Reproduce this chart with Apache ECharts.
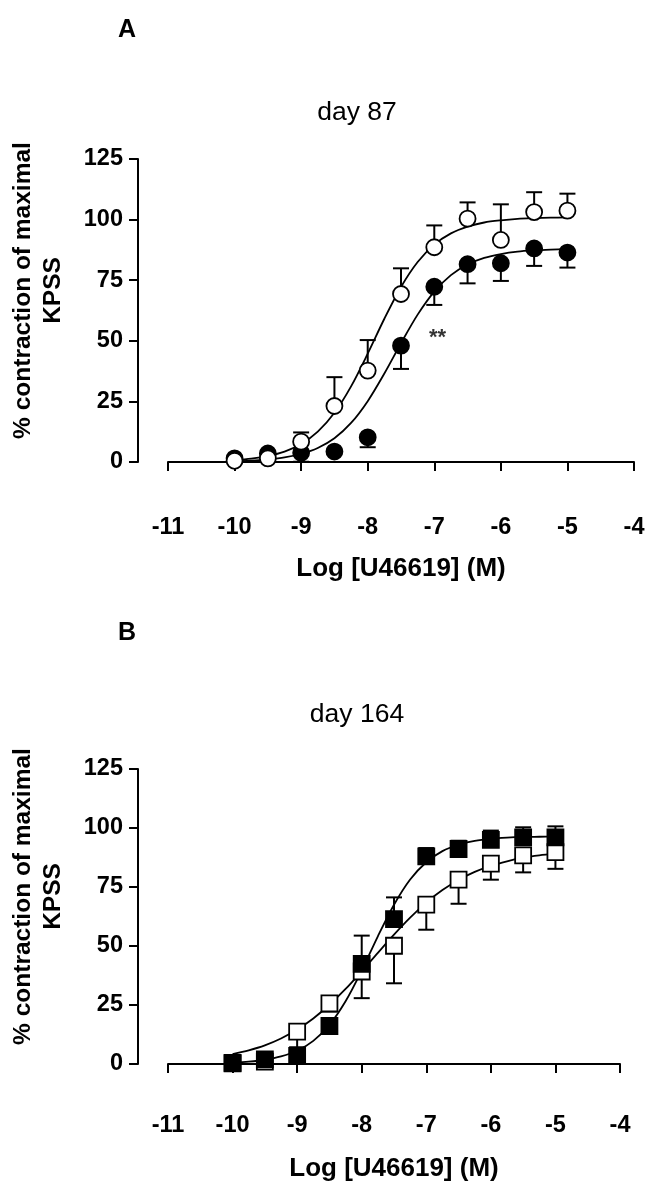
<!DOCTYPE html>
<html><head><meta charset="utf-8">
<script src="https://cdn.jsdelivr.net/npm/echarts@6/dist/echarts.min.js"></script>
<style>html,body{margin:0;padding:0;background:#fff}#c{width:656px;height:1200px}</style>
</head><body><div id="c"></div>
<script>
// ---- data ----
const logConc = [-10, -9.5, -9, -8.5, -8, -7.5, -7, -6.5, -6, -5.5, -5];
const xTicks = [-11, -10, -9, -8, -7, -6, -5, -4];
const yTicks = [0, 25, 50, 75, 100, 125];

// Panel A (day 87): open circles (mean, SEM up), filled circles (mean, SEM down)
const aOpenMean  = [0.5, 1.5, 8.4, 23.1, 37.7, 69.3, 88.6, 100.4, 91.6, 103.1, 103.7];
const aOpenErr   = [0, 0, 3.8, 11.9, 12.6, 10.6, 9.0, 6.7, 14.7, 8.2, 7.0];
const aFillMean  = [1.5, 3.5, 3.8, 4.3, 10.2, 48.0, 72.3, 81.6, 82.0, 88.1, 86.4];
const aFillErr   = [0, 0, 3.7, 0, 4.1, 9.6, 7.5, 7.9, 7.3, 7.2, 6.2];

// Panel B (day 164): filled squares (SEM up), open squares (SEM down)
const bFillMean  = [0.3, 2.0, 3.4, 16.1, 42.4, 61.4, 88.0, 91.1, 95.0, 96.0, 96.0];
const bFillErr   = [0, 0, 0, 0, 12.0, 9.2, 3.5, 3.5, 3.9, 4.3, 4.7];
const bOpenMean  = [0.5, 1.0, 13.7, 25.7, 39.2, 50.1, 67.5, 78.1, 84.9, 88.4, 89.8];
const bOpenErr   = [0, 0, 6.6, 3.5, 11.3, 15.9, 10.6, 10.2, 6.8, 7.2, 7.1];

// Fitted curves
const curveX = [-10, -9.75, -9.5, -9.25, -9, -8.75, -8.5, -8.25, -8, -7.75, -7.5, -7.25, -7, -6.75, -6.5, -6.25, -6, -5.75, -5.5, -5.25, -5];
const aOpenCurve = [0.8, 1.4, 2.5, 4.3, 7.4, 12.5, 20.3, 31.2, 44.7, 59.1, 72.2, 82.5, 89.7, 94.3, 97.1, 98.8, 99.7, 100.3, 100.6, 100.8, 100.9];
const aFillCurve = [0.4, 0.6, 1.1, 1.9, 3.4, 5.8, 9.8, 16.1, 25.1, 36.5, 49.0, 60.8, 70.3, 77.1, 81.5, 84.2, 85.8, 86.8, 87.3, 87.6, 87.8];
const bFillCurve = [0.5, 1.0, 1.8, 3.2, 5.6, 9.8, 16.6, 26.6, 39.6, 54.1, 67.5, 78.2, 85.5, 90.2, 92.9, 94.5, 95.4, 95.9, 96.2, 96.3, 96.4];
const bOpenCurve = [4.2, 5.8, 7.9, 10.8, 14.6, 19.3, 25.1, 31.8, 39.3, 47.1, 54.8, 62.0, 68.4, 73.7, 78.0, 81.4, 84.0, 85.9, 87.4, 88.4, 89.1];

const annotationA = [[-6.95, 51, '**']];

// ---- chart ----
const FONT = 'Liberation Sans, Arial, Helvetica, sans-serif';
const zip = (xs, ys) => xs.map((x, i) => [x, ys[i]]);

function errSeries(idx, xs, ys, errs, dir, z) {
  return {
    type: 'custom', xAxisIndex: idx, yAxisIndex: idx, z: z, silent: true,
    data: xs.map((x, i) => [x, ys[i], ys[i] + dir * errs[i], errs[i]]),
    renderItem: function (params, api) {
      if (api.value(3) <= 0) return { type: 'group', children: [] };
      const p0 = api.coord([api.value(0), api.value(1)]);
      const p1 = api.coord([api.value(0), api.value(2)]);
      const hw = 8;
      return { type: 'group', children: [
        { type: 'line', shape: { x1: p0[0], y1: p0[1], x2: p1[0], y2: p1[1] }, style: { stroke: '#000', lineWidth: 2 } },
        { type: 'line', shape: { x1: p1[0] - hw, y1: p1[1], x2: p1[0] + hw, y2: p1[1] }, style: { stroke: '#000', lineWidth: 2 } }
      ]};
    }
  };
}
function curve(idx, ys, z) {
  return { type: 'line', xAxisIndex: idx, yAxisIndex: idx, data: zip(curveX, ys), smooth: 0.3, showSymbol: false,
    lineStyle: { color: '#000', width: 1.8 }, z: z, silent: true };
}
function marks(idx, ys, symbol, filled, z) {
  return { type: 'scatter', xAxisIndex: idx, yAxisIndex: idx, data: zip(logConc, ys), symbol: symbol, symbolSize: 16,
    itemStyle: { color: filled ? '#000' : '#fff', borderColor: '#000', borderWidth: 1.8, opacity: 1 }, z: z, silent: true };
}
function xAx(idx, offset, gap) {
  return { gridIndex: idx, type: 'value', min: -11, max: -4, interval: 1, offset: offset,
    axisLine: { show: true, lineStyle: { color: '#000', width: 2 } },
    axisTick: { show: true, length: 9, lineStyle: { color: '#000', width: 2 } },
    axisLabel: { color: '#000', fontSize: 23.5, fontWeight: 'bold', fontFamily: FONT, margin: 17,
      formatter: v => xTicks.includes(v) ? String(v) : '' },
    splitLine: { show: false },
    name: 'Log [U46619] (M)', nameLocation: 'middle', nameGap: gap,
    nameTextStyle: { color: '#000', fontSize: 26, fontWeight: 'bold', fontFamily: FONT } };
}
function yAx(idx) {
  return { gridIndex: idx, type: 'value', min: 0, max: 125, interval: 25, offset: 30,
    axisLine: { show: true, lineStyle: { color: '#000', width: 2 } },
    axisTick: { show: true, length: 9, lineStyle: { color: '#000', width: 2 } },
    axisLabel: { color: '#000', fontSize: 23.5, fontWeight: 'bold', fontFamily: FONT, margin: 15,
      formatter: v => yTicks.includes(v) ? String(v) : '' },
    splitLine: { show: false },
    name: '% contraction of maximal\nKPSS', nameLocation: 'middle', nameGap: 70, nameRotate: 90,
    nameTextStyle: { color: '#000', fontSize: 24.5, fontWeight: 'bold', fontFamily: FONT, lineHeight: 30, padding: [0, 0, 0, 40] } };
}

const chart = echarts.init(document.getElementById('c'), null, { renderer: 'canvas' });
chart.setOption({
  backgroundColor: '#fff',
  animation: false,
  title: [
    { text: 'A', left: 113, top: 13, textStyle: { fontSize: 25, fontWeight: 'bold', color: '#000', fontFamily: FONT } },
    { text: 'day 87', left: 352, top: 94, textAlign: 'center', textStyle: { fontSize: 26.5, fontWeight: 'normal', color: '#000', fontFamily: FONT } },
    { text: 'B', left: 113, top: 616, textStyle: { fontSize: 25, fontWeight: 'bold', color: '#000', fontFamily: FONT } },
    { text: 'day 164', left: 352, top: 696, textAlign: 'center', textStyle: { fontSize: 26.5, fontWeight: 'normal', color: '#000', fontFamily: FONT } }
  ],
  grid: [
    { left: 162, right: 22, top: 159, height: 303 },
    { left: 162, right: 36, top: 769, height: 295 }
  ],
  xAxis: [xAx(0, 37, 57), xAx(1, 33, 59)],
  yAxis: [yAx(0), yAx(1)],
  series: [
    // Panel A
    curve(0, aOpenCurve, 2),
    curve(0, aFillCurve, 2),
    errSeries(0, logConc, aOpenMean, aOpenErr, 1, 3),
    errSeries(0, logConc, aFillMean, aFillErr, -1, 3),
    marks(0, aFillMean, 'circle', true, 4),
    marks(0, aOpenMean, 'circle', false, 5),
    { type: 'scatter', xAxisIndex: 0, yAxisIndex: 0, data: annotationA.map(a => [a[0], a[1]]), symbolSize: 0, silent: true,
      label: { show: true, position: 'inside', formatter: p => annotationA[p.dataIndex][2], color: '#000', fontSize: 22, fontWeight: 'bold', fontFamily: FONT }, z: 6 },
    // Panel B
    curve(1, bOpenCurve, 2),
    curve(1, bFillCurve, 2),
    errSeries(1, logConc, bOpenMean, bOpenErr, -1, 3),
    errSeries(1, logConc, bFillMean, bFillErr, 1, 3),
    marks(1, bOpenMean, 'rect', false, 4),
    marks(1, bFillMean, 'rect', true, 5)
  ]
});
</script></body></html>
